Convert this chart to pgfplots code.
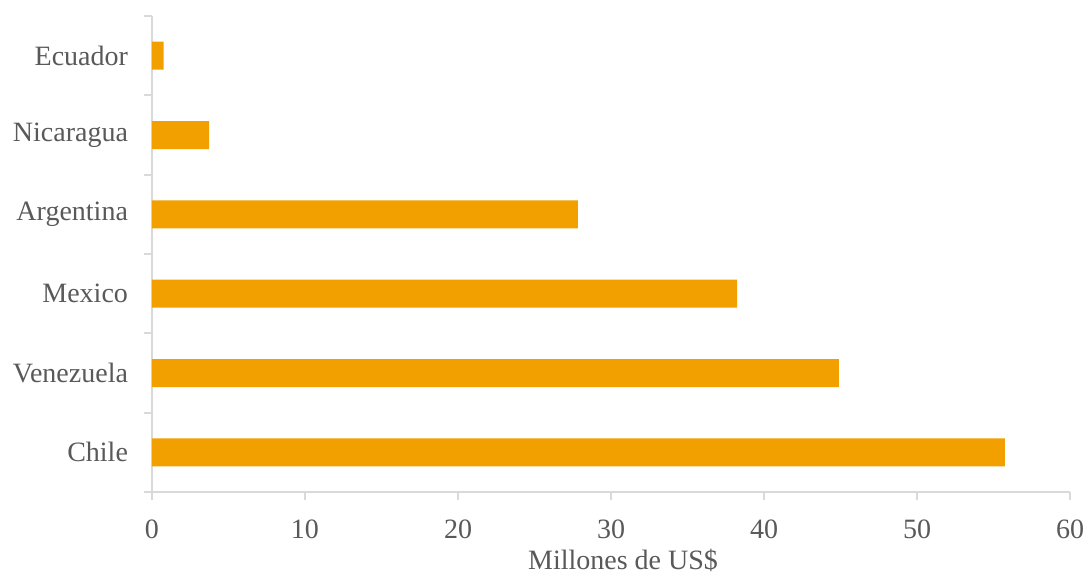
\documentclass[border=0pt]{standalone}
\usepackage{fontspec}
\setmainfont{Liberation Serif}
\usepackage{pgfplots}
\pgfplotsset{compat=1.18}
\definecolor{barc}{HTML}{F29F00}
\definecolor{txt}{HTML}{595959}
\definecolor{axc}{HTML}{D9D9D9}
\begin{document}
\begin{tikzpicture}
\path[use as bounding box] (-76pt,-40.5pt) rectangle (467pt,246pt);
\begin{axis}[
 at={(0,0)}, anchor=south west,
 scale only axis, width=459pt, height=238pt,
 xbar, bar width=14pt,
 xmin=0, xmax=60, ymin=-0.5, ymax=5.5,
 axis x line*=bottom, axis y line*=left,
 axis line style={draw=axc, line width=1pt, -},
 xtick={0,10,...,60},
 ytick={-0.5,0.5,1.5,2.5,3.5,4.5,5.5},
 yticklabels={,,,,,,},
 extra y ticks={0,1,2,3,4,5},
 extra y tick labels={Chile,Venezuela,Mexico,Argentina,Nicaragua,Ecuador},
 extra y tick style={tick style={draw=none}},
 tick align=outside,
 tick style={draw=axc, line width=1pt},
 major tick length=4pt,
 /pgf/number format/assume math mode=true,
 ticklabel style={font=\fontsize{14}{17}\selectfont, text=txt},
 yticklabel style={xshift=-4.5pt},
 xticklabel style={yshift=-6.5pt},
 xlabel={Millones de US\$},
 xlabel style={font=\fontsize{14}{17}\selectfont, text=txt, yshift=1.5pt, xshift=6pt},
]
\addplot[fill=barc, draw=none] coordinates {(55.75,0) (44.9,1) (38.24,2) (27.84,3) (3.73,4) (0.76,5)};
\end{axis}
\end{tikzpicture}
\end{document}
